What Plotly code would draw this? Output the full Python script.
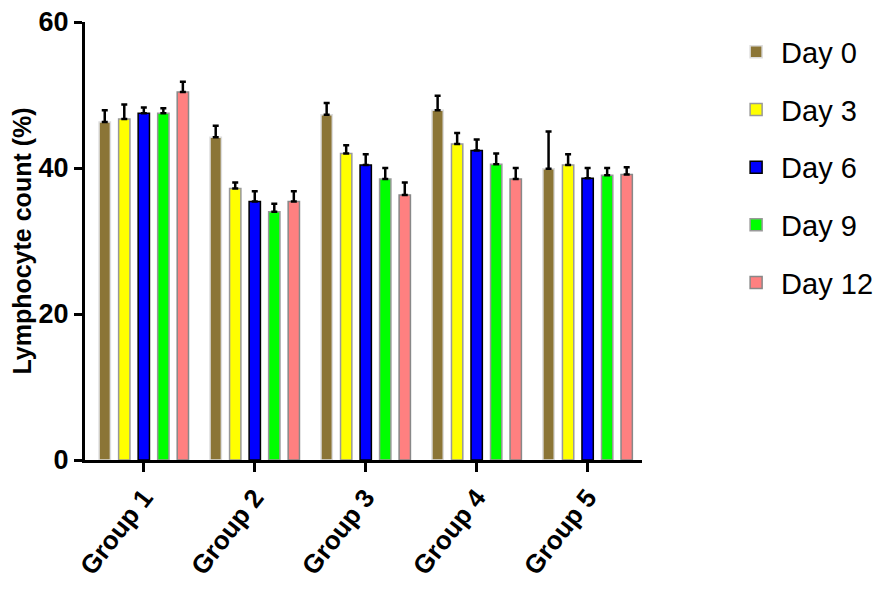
import plotly.graph_objects as go

groups = ["Group 1", "Group 2", "Group 3", "Group 4", "Group 5"]
series_names = ["Day 0", "Day 3", "Day 6", "Day 9", "Day 12"]

day0 = [46.3, 44.2, 47.3, 47.9, 39.9]
day3 = [46.7, 37.2, 42.0, 43.3, 40.4]
day6 = [47.5, 35.4, 40.4, 42.4, 38.6]
day9 = [47.5, 34.0, 38.5, 40.5, 39.0]
day12 = [50.4, 35.4, 36.3, 38.5, 39.1]

err0 = [1.6, 1.6, 1.6, 2.0, 5.1]
err3 = [2.0, 0.8, 1.1, 1.5, 1.5]
err6 = [0.8, 1.4, 1.5, 1.5, 1.4]
err9 = [0.7, 1.1, 1.5, 1.5, 1.0]
err12 = [1.4, 1.4, 1.7, 1.5, 1.0]

values = [day0, day3, day6, day9, day12]
errors = [err0, err3, err6, err9, err12]
fills = ["#8B7536", "#FFFF00", "#0000FF", "#00FF00", "#FF8080"]
outlines = ["#DDDDDD", "#999999", "#000000", "#999999", "#888888"]

FONT = "Liberation Sans, Arial, sans-serif"

fig = go.Figure()
for name, v, e, fc, oc in zip(series_names, values, errors, fills, outlines):
    fig.add_trace(go.Bar(
        x=groups, y=v, name=name, legendgroup=name,
        marker=dict(color=fc, line=dict(color=oc, width=1.5)),
        error_y=dict(type="data", symmetric=False, array=e,
                     arrayminus=[0] * len(e), color="black",
                     thickness=2.5, width=3),
    ))

fig.update_layout(
    width=873, height=583,
    paper_bgcolor="white", plot_bgcolor="white",
    margin=dict(l=77, r=239, t=14, b=131, autoexpand=False),
    barmode="group", bargap=0.12, bargroupgap=0.42,
    font=dict(family=FONT, color="black"),
    legend=dict(x=1.16, y=0.99, xanchor="left", yanchor="top",
                font=dict(size=29, family=FONT), tracegroupgap=17, itemwidth=40,
                bgcolor="rgba(0,0,0,0)"),
    showlegend=True,
)
fig.update_xaxes(
    range=[-0.53, 4.49], showline=True, linecolor="black", linewidth=3,
    ticks="outside", ticklen=9, tickwidth=3, tickcolor="black",
    tickangle=-52, tickfont=dict(size=26, family=FONT, weight="bold"),
    showgrid=False, zeroline=False, automargin=False, ticklabeloverflow="allow",
)
fig.update_yaxes(
    range=[0, 60], tickvals=[0, 20, 40, 60], showline=True, linecolor="black",
    linewidth=3, ticks="outside", ticklen=8, tickwidth=3, tickcolor="black",
    tickfont=dict(size=27, family=FONT, weight="bold"),
    showgrid=False, zeroline=False, automargin=False, ticklabeloverflow="allow",
    title=dict(text="Lymphocyte count (%)", standoff=8,
               font=dict(size=25, family=FONT, weight="bold")),
)

fig.write_html("out.html")
